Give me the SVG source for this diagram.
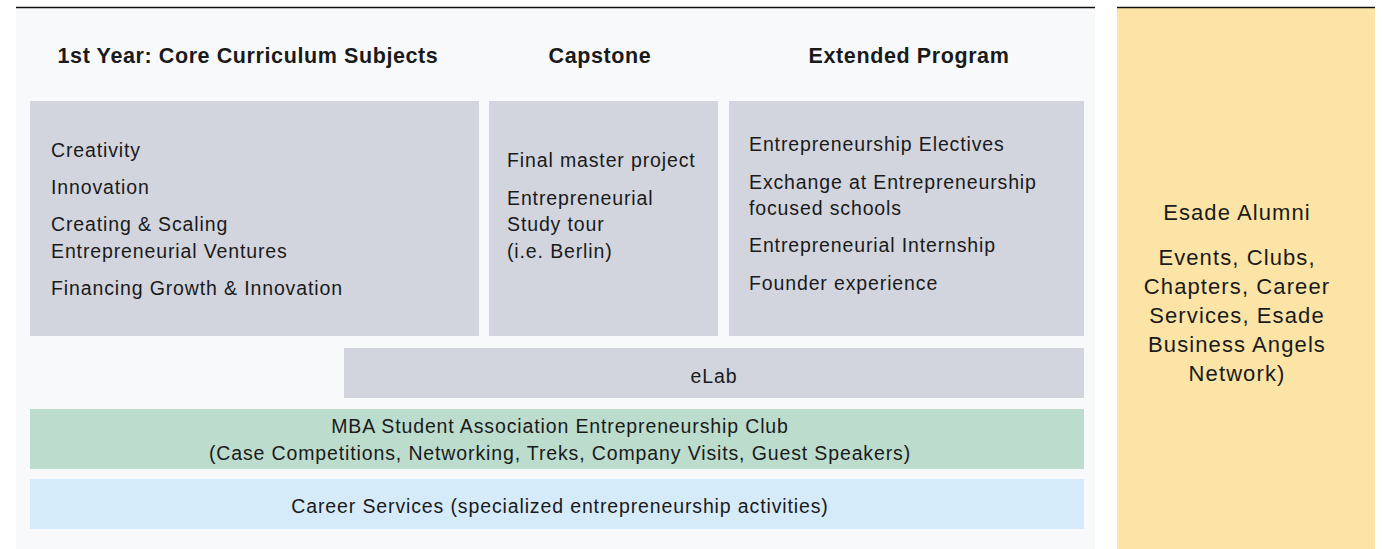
<svg xmlns="http://www.w3.org/2000/svg" width="1382" height="549" viewBox="0 0 1382 549">
<style>
.h{font-family:"Liberation Sans",Arial,sans-serif;font-size:21.5px;font-weight:bold;letter-spacing:0.6px;fill:#1a1a1a;text-anchor:middle}
.t{font-family:"Liberation Sans",Arial,sans-serif;font-size:19.5px;letter-spacing:0.87px;fill:#1a1a1a}
.a{font-family:"Liberation Sans",Arial,sans-serif;font-size:22px;letter-spacing:1.1px;fill:#1a1a1a;text-anchor:middle}
.c{text-anchor:middle}
.g{fill:#d2d5de}
</style>
<rect x="0" y="0" width="1382" height="549" fill="#ffffff"/>
<rect x="16" y="8" width="1079" height="541" fill="#f8f9fb"/>
<line x1="16" y1="7.5" x2="1095" y2="7.5" stroke="#111" stroke-width="1.5"/>
<rect x="1117" y="8" width="258" height="541" fill="#fce4a6"/>
<line x1="1117" y1="7.5" x2="1375" y2="7.5" stroke="#111" stroke-width="1.5"/>
<g id="headers">
<text class="h" x="248" y="63">1st Year: Core Curriculum Subjects</text>
<text class="h" x="600" y="63">Capstone</text>
<text class="h" x="909" y="63">Extended Program</text>
</g>
<g id="core">
<rect class="g" x="30" y="101" width="449" height="235"/>
<text class="t" x="51" y="157">Creativity</text>
<text class="t" x="51" y="194">Innovation</text>
<text class="t" x="51" y="231">Creating &amp; Scaling</text>
<text class="t" x="51" y="258">Entrepreneurial Ventures</text>
<text class="t" x="51" y="295">Financing Growth &amp; Innovation</text>
</g>
<g id="capstone">
<rect class="g" x="489" y="101" width="229" height="235"/>
<text class="t" x="507" y="167">Final master project</text>
<text class="t" x="507" y="205">Entrepreneurial</text>
<text class="t" x="507" y="231">Study tour</text>
<text class="t" x="507" y="258">(i.e. Berlin)</text>
</g>
<g id="extended">
<rect class="g" x="729" y="101" width="355" height="235"/>
<text class="t" x="749" y="151">Entrepreneurship Electives</text>
<text class="t" x="749" y="189">Exchange at Entrepreneurship</text>
<text class="t" x="749" y="215">focused schools</text>
<text class="t" x="749" y="252">Entrepreneurial Internship</text>
<text class="t" x="749" y="290">Founder experience</text>
</g>
<g id="elab">
<rect class="g" x="344" y="348" width="740" height="50"/>
<text class="t c" x="714" y="383">eLab</text>
</g>
<g id="club">
<rect x="30" y="409" width="1054" height="60" fill="#bcdcce"/>
<text class="t c" x="560" y="433">MBA Student Association Entrepreneurship Club</text>
<text class="t c" x="560" y="460">(Case Competitions, Networking, Treks, Company Visits, Guest Speakers)</text>
</g>
<g id="career">
<rect x="30" y="479" width="1054" height="50" fill="#d5ebfa"/>
<text class="t c" x="560" y="513">Career Services (specialized entrepreneurship activities)</text>
</g>
<g id="alumni">
<text class="a" x="1237" y="220">Esade Alumni</text>
<text class="a" x="1237" y="265">Events, Clubs,</text>
<text class="a" x="1237" y="294">Chapters, Career</text>
<text class="a" x="1237" y="323">Services, Esade</text>
<text class="a" x="1237" y="352">Business Angels</text>
<text class="a" x="1237" y="381">Network)</text>
</g>
<g id="connectors"></g>
</svg>
